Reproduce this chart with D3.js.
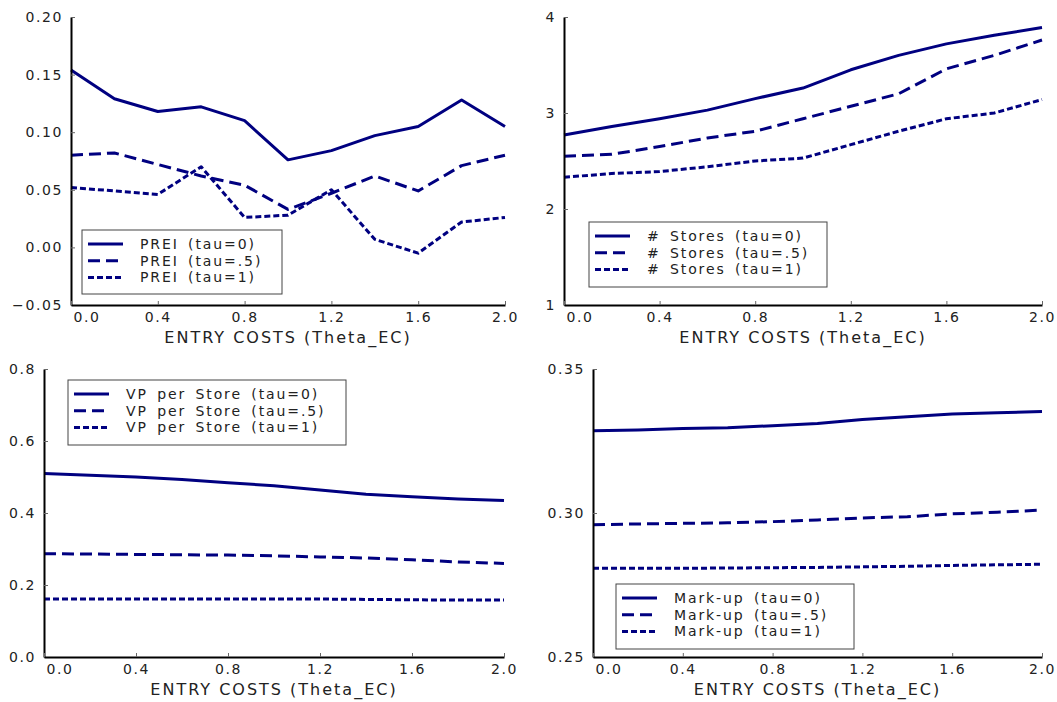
<!DOCTYPE html>
<html>
<head>
<meta charset="utf-8">
<script src="https://cdn.jsdelivr.net/npm/d3@7"></script>
<style>
  body { margin: 0; background: #fff; }
  text { font-family: "DejaVu Sans", sans-serif; fill: #222; }
</style>
</head>
<body>
<script>
// entry costs (x)
const thetaEC = [0.0, 0.2, 0.4, 0.6, 0.8, 1.0, 1.2, 1.4, 1.6, 1.8, 2.0];
const xTicks = [0.0, 0.4, 0.8, 1.2, 1.6, 2.0];
const tauLabels = ["tau=0", "tau=.5", "tau=1"];

// PREI
const preiTau0  = [0.154, 0.129, 0.118, 0.122, 0.110, 0.076, 0.084, 0.097, 0.105, 0.128, 0.105];
const preiTau05 = [0.080, 0.082, 0.072, 0.062, 0.054, 0.033, 0.047, 0.062, 0.049, 0.071, 0.080];
const preiTau1  = [0.052, 0.049, 0.046, 0.070, 0.026, 0.028, 0.050, 0.007, -0.005, 0.022, 0.026];
const preiTicks = [-0.05, 0.00, 0.05, 0.10, 0.15, 0.20];

// # Stores
const storesTau0  = [2.77, 2.86, 2.94, 3.03, 3.15, 3.26, 3.45, 3.60, 3.72, 3.81, 3.89];
const storesTau05 = [2.55, 2.57, 2.65, 2.74, 2.81, 2.94, 3.07, 3.20, 3.46, 3.60, 3.76];
const storesTau1  = [2.33, 2.37, 2.39, 2.44, 2.50, 2.53, 2.67, 2.81, 2.94, 3.00, 3.14];
const storesTicks = [1, 2, 3, 4];

// VP per store
const vpTau0  = [0.510, 0.505, 0.500, 0.493, 0.484, 0.476, 0.464, 0.452, 0.445, 0.439, 0.435];
const vpTau05 = [0.287, 0.286, 0.285, 0.284, 0.283, 0.281, 0.278, 0.275, 0.270, 0.264, 0.260];
const vpTau1  = [0.161, 0.161, 0.161, 0.161, 0.161, 0.161, 0.161, 0.160, 0.159, 0.158, 0.158];
const vpTicks = [0.0, 0.2, 0.4, 0.6, 0.8];

// Mark-up
const markupTau0  = [0.3286, 0.3288, 0.3293, 0.3296, 0.3303, 0.3311, 0.3325, 0.3334, 0.3344, 0.3348, 0.3352];
const markupTau05 = [0.2959, 0.2962, 0.2964, 0.2966, 0.2970, 0.2976, 0.2983, 0.2987, 0.2997, 0.3003, 0.3010];
const markupTau1  = [0.2808, 0.2808, 0.2808, 0.2809, 0.2810, 0.2811, 0.2813, 0.2815, 0.2818, 0.2820, 0.2822];
const markupTicks = [0.25, 0.30, 0.35];

const W = 1057, H = 702;
const navy = "#000080";
const dashes = [null, "12,6", "6,3"];

const svg = d3.select("body").append("svg")
    .attr("width", W)
    .attr("height", H);

const panels = [
  { box: [71, 505, 17, 305], dom: [-0.05, 0.20], ticks: preiTicks, fmt: d3.format(".2f"),
    series: [preiTau0, preiTau05, preiTau1], name: "PREI", leg: [82, 230, 200, 64] },
  { box: [564, 1042, 17, 305], dom: [1, 4], ticks: storesTicks, fmt: d3.format("d"),
    series: [storesTau0, storesTau05, storesTau1], name: "# Stores", leg: [589, 222, 238, 65] },
  { box: [44, 504, 369, 657], dom: [0, 0.8], ticks: vpTicks, fmt: d3.format(".1f"),
    series: [vpTau0, vpTau05, vpTau1], name: "VP per Store", leg: [68, 380, 278, 65] },
  { box: [593, 1042, 369, 657], dom: [0.25, 0.35], ticks: markupTicks, fmt: d3.format(".2f"),
    series: [markupTau0, markupTau05, markupTau1], name: "Mark-up", leg: [616, 584, 238, 65] }
];

panels.forEach(p => {
  const [x0, x1, y0, y1] = p.box;
  const x = d3.scaleLinear().domain([0, 2]).range([x0, x1]);
  const y = d3.scaleLinear().domain(p.dom).range([y1, y0]);
  const g = svg.append("g");

  // lines
  const line = d3.line().x((d, i) => x(thetaEC[i])).y(d => y(d));
  p.series.forEach((s, k) => {
    g.append("path")
      .datum(s)
      .attr("d", line)
      .attr("fill", "none")
      .attr("stroke", navy)
      .attr("stroke-width", 3)
      .attr("stroke-linejoin", "round")
      .attr("stroke-dasharray", dashes[k]);
  });

  // axes
  const ya = g.append("g")
    .attr("transform", `translate(${x0},0)`)
    .call(d3.axisLeft(y).tickValues(p.ticks).tickFormat(d => p.fmt(d).replace("-", "\u2212"))
      .tickSizeInner(-4).tickSizeOuter(0).tickPadding(8));
  const xa = g.append("g")
    .attr("transform", `translate(0,${y1})`)
    .call(d3.axisBottom(x).tickValues(xTicks).tickFormat(d3.format(".1f"))
      .tickSizeInner(-4).tickSizeOuter(0).tickPadding(7));
  [ya, xa].forEach(a => {
    a.select(".domain").attr("stroke", "#000").attr("stroke-width", 2);
    a.selectAll(".tick line").attr("stroke", "#666").attr("stroke-width", 1);
    a.selectAll(".tick text")
      .style("font-family", "DejaVu Sans").style("font-size", "14px")
      .style("letter-spacing", "1.6px").attr("fill", "#222");
  });
  xa.selectAll(".tick text").filter(d => d === 0)
    .attr("text-anchor", "start").attr("x", 2);

  g.append("text")
    .attr("x", (x0 + x1) / 2)
    .attr("y", y1 + 38)
    .attr("text-anchor", "middle")
    .style("font-size", "16px")
    .style("letter-spacing", "2px")
    .text("ENTRY COSTS (Theta_EC)");

  // legend
  const [lx, ly, lw, lh] = p.leg;
  const lg = g.append("g").attr("transform", `translate(${lx},${ly})`);
  lg.append("rect")
    .attr("width", lw).attr("height", lh)
    .attr("fill", "#fff").attr("stroke", "#444").attr("stroke-width", 1);
  tauLabels.forEach((t, k) => {
    const ry = 14 + k * 16.7;
    lg.append("line")
      .attr("x1", 6).attr("x2", 41).attr("y1", ry).attr("y2", ry)
      .attr("stroke", navy).attr("stroke-width", 3)
      .attr("stroke-dasharray", dashes[k]);
    lg.append("text")
      .attr("x", 58).attr("y", ry + 5)
      .style("font-size", "14px")
      .style("letter-spacing", "1.9px")
      .style("word-spacing", "3px")
      .text(`${p.name} (${t})`);
  });
});
</script>
</body>
</html>
